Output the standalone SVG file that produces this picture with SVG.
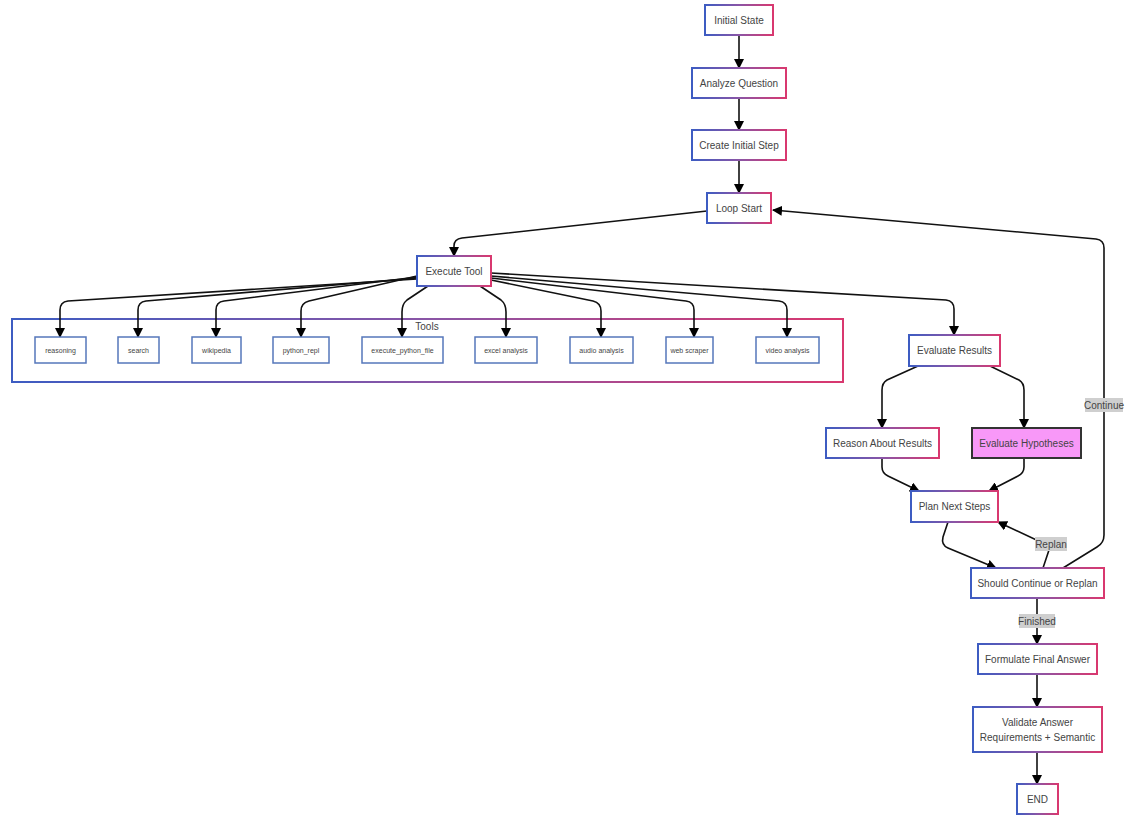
<svg xmlns="http://www.w3.org/2000/svg" width="1131" height="821" viewBox="0 0 1131 821">
<defs>
<linearGradient id="g" x1="0" y1="0" x2="1" y2="0">
<stop offset="0" stop-color="#3d5cc2"/>
<stop offset="0.5" stop-color="#8a55a6"/>
<stop offset="1" stop-color="#d9386f"/>
</linearGradient>
<marker id="arr" markerUnits="userSpaceOnUse" markerWidth="10" markerHeight="10" refX="9" refY="5" orient="auto">
<path d="M0,0 L10,5 L0,10 z" fill="#000"/>
</marker>
<style>
.n{fill:#fff;stroke:url(#g);stroke-width:2}
.t{fill:#fff;stroke:#5577bb;stroke-width:1.5}
.hyp{fill:#f898f8;stroke:#333;stroke-width:2}
text{font-family:"Liberation Sans",Arial,sans-serif;fill:#444;text-anchor:middle;dominant-baseline:central}
.l{font-size:10px}
.s{font-size:7px}
.e{fill:none;stroke:#111;stroke-width:1.6;marker-end:url(#arr)}
.lb{fill:#cfcfcf}
</style>
</defs>
<rect width="1131" height="821" fill="#fff"/>

<g id="cluster-tools">
<rect x="12" y="319" width="831" height="63" fill="none" stroke="url(#g)" stroke-width="2"/>
<text class="l" x="427" y="326">Tools</text>
</g>

<g id="connectors">
<path class="e" d="M739,35 L739,68"/>
<path class="e" d="M739,98 L739,130"/>
<path class="e" d="M739,160 L739,193"/>
<path class="e" d="M707,211 L462,238 Q454,239 454,246 L454,256"/>
<path class="e" d="M417,279 L68,301 Q60,302 60,310 L60,337"/>
<path class="e" d="M417,278 L146,301 Q138,302 138,310 L138,337"/>
<path class="e" d="M417,277 L224,301 Q216,302 216,310 L216,337"/>
<path class="e" d="M417,276 L309,301 Q301,303 301,311 L301,337"/>
<path class="e" d="M428,286 L407,300 Q402,304 402,312 L402,337"/>
<path class="e" d="M480,286 L501,300 Q506,304 506,312 L506,337"/>
<path class="e" d="M491,280 L593,301 Q601,303 601,311 L601,337"/>
<path class="e" d="M491,278 L686,301 Q694,302 694,310 L694,337"/>
<path class="e" d="M491,276 L779,301 Q787,302 787,310 L787,337"/>
<path class="e" d="M491,273 L946,300 Q954,301 954,309 L954,335"/>
<path class="e" d="M918,366 L887,380 Q882,383 882,390 L882,428"/>
<path class="e" d="M990,366 L1019,380 Q1024,383 1024,390 L1024,428"/>
<path class="e" d="M882,458 L882,467 Q882,473 888,476 L919,491"/>
<path class="e" d="M1024,458 L1024,467 Q1024,473 1018,476 L989,491"/>
<path class="e" d="M948,522 L943,537 Q941,545 948,548 L996,568"/>
<path class="e" d="M1043,568 L1049,550 Q1050,546 1045,544 L998,522"/>
<path class="e" d="M1063,568 L1097,547 Q1104,543 1104,535 L1104,248 Q1104,240 1096,239 L773,210"/>
<path class="e" d="M1037,598 L1037,644"/>
<path class="e" d="M1037,674 L1037,707"/>
<path class="e" d="M1037,752 L1037,784"/>
<rect class="lb" x="1085" y="398" width="38" height="14"/>
<text class="l" x="1104" y="405">Continue</text>
<rect class="lb" x="1035" y="537" width="32" height="14"/>
<text class="l" x="1051" y="544">Replan</text>
<rect class="lb" x="1019" y="614" width="36" height="14"/>
<text class="l" x="1037" y="621">Finished</text>
</g>

<g id="initial-state"><rect class="n" x="705" y="5" width="68" height="30"/><text class="l" x="739" y="20">Initial State</text></g>
<g id="analyze-question"><rect class="n" x="692" y="68" width="94" height="30"/><text class="l" x="739" y="83">Analyze Question</text></g>
<g id="create-initial-step"><rect class="n" x="692" y="130" width="94" height="30"/><text class="l" x="739" y="145">Create Initial Step</text></g>
<g id="loop-start"><rect class="n" x="707" y="193" width="64" height="30"/><text class="l" x="739" y="208">Loop Start</text></g>
<g id="execute-tool"><rect class="n" x="417" y="256" width="74" height="30"/><text class="l" x="454" y="271">Execute Tool</text></g>

<g id="tool-reasoning"><rect class="t" x="35" y="337" width="51" height="26"/><text class="s" x="60.5" y="350">reasoning</text></g>
<g id="tool-search"><rect class="t" x="118" y="337" width="41" height="26"/><text class="s" x="138.5" y="350">search</text></g>
<g id="tool-wikipedia"><rect class="t" x="192" y="337" width="49" height="26"/><text class="s" x="216.5" y="350">wikipedia</text></g>
<g id="tool-python-repl"><rect class="t" x="273" y="337" width="56" height="26"/><text class="s" x="301" y="350">python_repl</text></g>
<g id="tool-execute-python-file"><rect class="t" x="362" y="337" width="81" height="26"/><text class="s" x="402.5" y="350">execute_python_file</text></g>
<g id="tool-excel"><rect class="t" x="475" y="337" width="62" height="26"/><text class="s" x="506" y="350">excel analysis</text></g>
<g id="tool-audio"><rect class="t" x="570" y="337" width="63" height="26"/><text class="s" x="601.5" y="350">audio analysis</text></g>
<g id="tool-web"><rect class="t" x="666" y="337" width="47" height="26"/><text class="s" x="689.5" y="350">web scraper</text></g>
<g id="tool-video"><rect class="t" x="756" y="337" width="63" height="26"/><text class="s" x="787.5" y="350">video analysis</text></g>

<g id="evaluate-results"><rect class="n" x="909" y="335" width="91" height="31"/><text class="l" x="954.5" y="350.5">Evaluate Results</text></g>
<g id="reason-about-results"><rect class="n" x="826" y="428" width="113" height="30"/><text class="l" x="882.5" y="443">Reason About Results</text></g>
<g id="evaluate-hypotheses"><rect class="hyp" x="972" y="428" width="109" height="30"/><text class="l" x="1026.5" y="443">Evaluate Hypotheses</text></g>
<g id="plan-next-steps"><rect class="n" x="911" y="491" width="87" height="31"/><text class="l" x="954.5" y="506.5">Plan Next Steps</text></g>
<g id="should-continue"><rect class="n" x="971" y="568" width="133" height="30"/><text class="l" x="1037.5" y="583">Should Continue or Replan</text></g>
<g id="formulate-final-answer"><rect class="n" x="978" y="644" width="119" height="30"/><text class="l" x="1037.5" y="659">Formulate Final Answer</text></g>
<g id="validate-answer"><rect class="n" x="973" y="707" width="129" height="45"/><text class="l" x="1037.5" y="722">Validate Answer</text><text class="l" x="1037.5" y="737">Requirements + Semantic</text></g>
<g id="end"><rect class="n" x="1017" y="784" width="41" height="30"/><text class="l" x="1037.5" y="799">END</text></g>
</svg>
